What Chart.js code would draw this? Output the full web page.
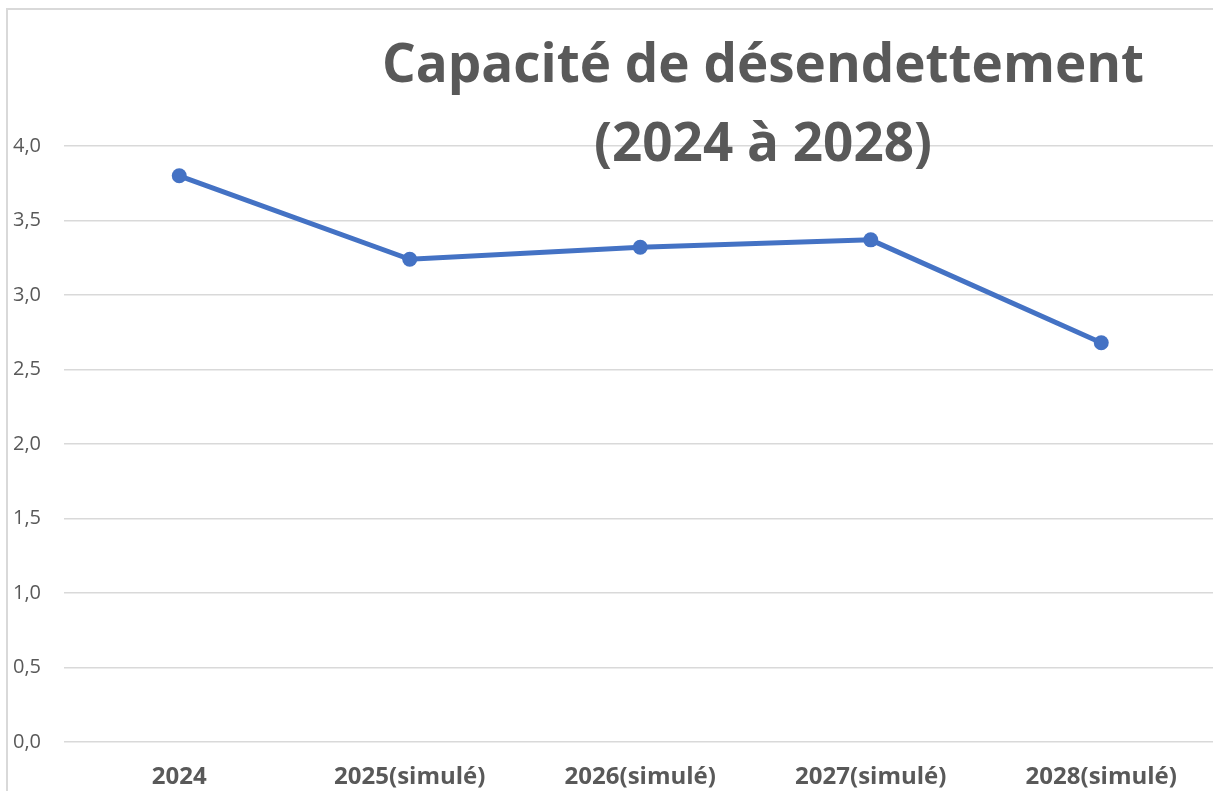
<!DOCTYPE html>
<html>
<head>
<meta charset="utf-8">
<script src="https://cdn.jsdelivr.net/npm/chart.js@4.4.1/dist/chart.umd.min.js"></script>
<style>
  html, body { margin: 0; padding: 0; overflow: hidden; background: #fff; width: 1213px; height: 791px; }
  #frame { position: absolute; left: 6px; top: 8px; width: 1300px; height: 900px; border-left: 2px solid #d9d9d9; border-top: 2px solid #d9d9d9; }
  #wrap { position: absolute; left: 0; top: 0; width: 1225px; height: 800px; }
</style>
</head>
<body>
<div id="frame"></div>
<div id="wrap"><canvas id="c" width="1225" height="800"></canvas></div>
<script>
const categories = ["2024", "2025(simulé)", "2026(simulé)", "2027(simulé)", "2028(simulé)"];
const values = [3.8, 3.24, 3.32, 3.37, 2.68];
const yTicks = [0, 0.5, 1, 1.5, 2, 2.5, 3, 3.5, 4];
const titleLines = ["Capacité de désendettement", "(2024 à 2028)"];

const titlePlugin = {
  id: 'overlayTitle',
  afterDraw(chart) {
    const ctx = chart.ctx;
    ctx.save();
    ctx.fillStyle = '#595959';
    ctx.textAlign = 'center';
    ctx.textBaseline = 'middle';
    ctx.font = 'bold 53px "Open Sans"';
    ctx.fillText(titleLines[0], 763, 67);
    ctx.fillText(titleLines[1], 763, 146);
    ctx.restore();
  }
};

new Chart(document.getElementById('c'), {
  type: 'line',
  data: {
    labels: categories,
    datasets: [{
      data: values,
      borderColor: '#4472C4',
      backgroundColor: '#4472C4',
      borderWidth: 5,
      pointRadius: 7.5,
      pointHoverRadius: 7.5,
      pointBackgroundColor: '#4472C4',
      pointBorderWidth: 0,
      tension: 0
    }]
  },
  options: {
    responsive: false,
    animation: false,
    layout: { padding: { left: 0, right: 8.5, top: 146, bottom: 0 } },
    plugins: { legend: { display: false }, tooltip: { enabled: false }, title: { display: false } },
    scales: {
      x: {
        offset: true,
        grid: { display: false, drawTicks: false },
        border: { display: false },
        ticks: { color: '#595959', font: { family: 'Open Sans', size: 24, weight: 'bold' }, padding: 21, maxRotation: 0, autoSkip: false },
        afterFit(s) { s.height = 58; }
      },
      y: {
        min: 0,
        max: 4,
        afterBuildTicks(s) { s.ticks = yTicks.map(v => ({ value: v })); },
        grid: { color: '#d9d9d9', lineWidth: 1.5, drawTicks: false },
        border: { display: false },
        ticks: {
          color: '#595959',
          font: { family: 'Open Sans', size: 20 },
          padding: 23,
          callback: v => v.toFixed(1).replace('.', ',')
        },
        afterFit(s) { s.width = 64; }
      }
    }
  },
  plugins: [titlePlugin]
});
</script>
</body>
</html>
